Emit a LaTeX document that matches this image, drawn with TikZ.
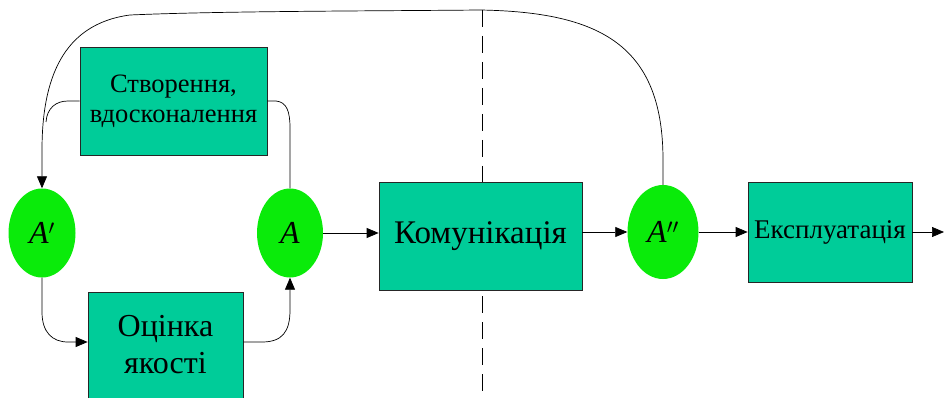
\documentclass[tikz,border=0pt]{standalone}
\usepackage{fontspec}
\setmainfont{Liberation Serif}
\usetikzlibrary{arrows.meta,shapes.geometric}
\definecolor{boxfill}{RGB}{0,204,153}
\definecolor{ellfill}{RGB}{10,235,10}
\begin{document}
\begin{tikzpicture}[x=1pt,y=-1pt,
  box/.style={draw=black!85,line width=0.7pt,fill=boxfill,inner sep=0pt,align=center},
  ell/.style={ellipse,fill=ellfill,inner sep=0pt,font=\fontsize{32}{32}\selectfont},
  conn/.style={line width=0.7pt},
  arr/.style={conn,-{Triangle[length=12pt,width=10pt]}}]
\useasboundingbox (0,0) rectangle (944,398);
\fill[white] (0,0) rectangle (944,398);
% dashed divider
\coordinate (dtop) at (482,10);
\coordinate (dbot) at (482,398);
\draw[line width=0.8pt,dash pattern=on 17pt off 9pt] (dtop) -- (dbot);
% nodes
\node[box,minimum width=187pt,minimum height=108pt,font=\fontsize{26.5}{30}\selectfont] (cr) at (173.5,101) {Створення,\\вдосконалення};
\node[box,minimum width=155pt,minimum height=106pt,font=\fontsize{32}{37}\selectfont] (oc) at (165.5,345) {Оцінка\\якості};
\node[box,minimum width=203pt,minimum height=108pt,font=\fontsize{33}{33}\selectfont] (kom) at (480.5,236) {Комунікація};
\node[box,minimum width=164pt,minimum height=100pt,font=\fontsize{27}{27}\selectfont] (exp) at (830,232) {Експлуатація};
\node[ell,minimum width=67pt,minimum height=89pt] (a1) at (42,233) {\textit{A}$'$};
\node[ell,minimum width=66pt,minimum height=89pt] (a) at (290,233) {\textit{A}};
\node[ell,minimum width=71pt,minimum height=94pt] (a2) at (663,232) {\textit{A}$''$};
\coordinate (end) at (944,232);
% big feedback curve
\draw[arr] (a2.north) -- (663,160) .. controls (663,45) and (600,12) .. (480,10)
  .. controls (380,11) and (220,11) .. (130,15)
  .. controls (62,24) and (42,80) .. (42,150) -- (a1.north);
% branch from creation box
\draw[conn] (cr.west) -- (68,101) .. controls (56,101) and (47,108) .. (46,122);
\draw[conn] (cr.east) -- (276,101) .. controls (287,102) and (290,112) .. (290,128) -- (a.north);
% lower loop
\draw[arr] (a1.south) -- (42,312) .. controls (42,332) and (52,342) .. (68,342) -- (oc.west |- 0,342);
\draw[arr] (oc.east |- 0,342) -- (262,342) .. controls (282,342) and (290,332) .. (290,310) -- (a.south);
% main line
\draw[arr] (a.east) -- (a.east -| kom.west);
\draw[arr] (kom.east |- a2.west) -- (a2.west);
\draw[arr] (a2.east) -- (a2.east -| exp.west);
\draw[arr] (exp.east) -- (end);
\end{tikzpicture}
\end{document}
